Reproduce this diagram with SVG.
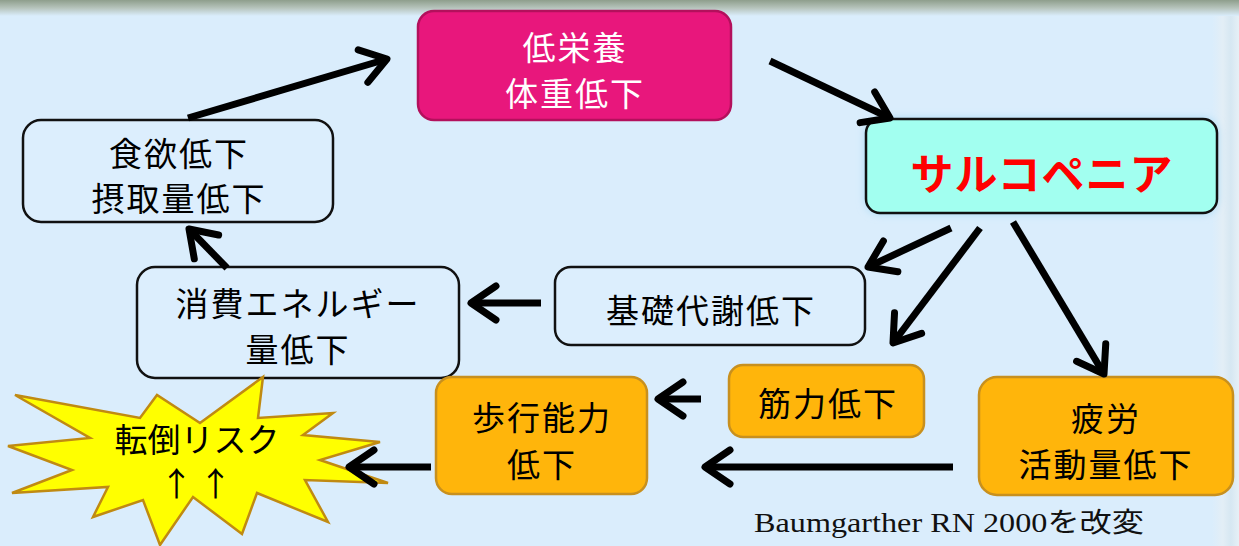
<svg xmlns="http://www.w3.org/2000/svg" width="1239" height="546" viewBox="0 0 1239 546">
<defs>
<style>
.jp{font-family:'Noto Sans CJK JP','Noto Sans CJK SC',sans-serif;font-size:33px;text-anchor:middle;dominant-baseline:central;letter-spacing:2px;}
.blk{fill:#000;}
.wht{fill:#fff;}
.wbox{fill:#DCEEFD;stroke:#111;stroke-width:2.5;}
.obox{fill:#FFB50B;stroke:#C8901E;stroke-width:2.5;}
.conn{fill:none;stroke:#000;stroke-width:7;stroke-linecap:butt;}
</style>
<linearGradient id="topband" x1="0" y1="0" x2="0" y2="1">
<stop offset="0" stop-color="#8E9E8C"/>
<stop offset="0.5" stop-color="#B6C4BC"/>
<stop offset="1" stop-color="#DAEDFC"/>
</linearGradient>
<linearGradient id="rstrip" x1="0" y1="0" x2="1" y2="0">
<stop offset="0" stop-color="#DAEDFC"/>
<stop offset="0.4" stop-color="#E3EEF6"/>
<stop offset="0.7" stop-color="#D6E7F2"/>
<stop offset="1" stop-color="#E6F0F6"/>
</linearGradient>
<filter id="glow" x="-10%" y="-20%" width="120%" height="140%">
<feGaussianBlur stdDeviation="5"/>
</filter>
<marker id="chev" markerUnits="userSpaceOnUse" markerWidth="60" markerHeight="60" refX="0" refY="0" orient="auto" overflow="visible">
<path d="M-25,-17 L0,0 L-25,17" fill="none" stroke="#000" stroke-width="7" stroke-linecap="round" stroke-linejoin="round"/>
</marker>
</defs>
<rect x="0" y="0" width="1239" height="546" fill="#DAEDFC"/>
<rect x="1212" y="0" width="27" height="546" fill="url(#rstrip)"/>
<rect x="0" y="0" width="1239" height="16" fill="url(#topband)"/>

<g id="node-teieiyou">
<rect x="418" y="11" width="313" height="109" rx="16" fill="#E8177C" stroke="#B3105C" stroke-width="2.5"/>
<text class="jp wht" x="575" y="46">低栄養</text>
<text class="jp wht" x="575" y="92">体重低下</text>
</g>

<g id="node-sarcopenia">
<rect x="866" y="119" width="351" height="94" rx="14" fill="#9FD6F2" filter="url(#glow)"/>
<rect x="866" y="119" width="351" height="94" rx="14" fill="#A2FFF0" stroke="#111" stroke-width="2.5"/>
<text x="1042" y="171" font-family="'Noto Sans CJK JP',sans-serif" font-size="43" font-weight="bold" fill="#FF0000" text-anchor="middle" dominant-baseline="central" letter-spacing="1">サルコペニア</text>
</g>

<g id="node-shokuyoku">
<rect class="wbox" x="23" y="120" width="310" height="102" rx="18"/>
<text class="jp blk" x="179" y="152">食欲低下</text>
<text class="jp blk" x="179" y="197">摂取量低下</text>
</g>

<g id="node-shouhi">
<rect class="wbox" x="137" y="267" width="322" height="111" rx="18"/>
<text class="jp blk" x="298" y="302">消費エネルギー</text>
<text class="jp blk" x="298" y="348">量低下</text>
</g>

<g id="node-kiso">
<rect class="wbox" x="555" y="267" width="310" height="78" rx="16"/>
<text class="jp blk" x="711" y="309">基礎代謝低下</text>
</g>

<g id="node-kinryoku">
<rect class="obox" x="729" y="365" width="195" height="72" rx="14"/>
<text class="jp blk" x="828" y="402">筋力低下</text>
</g>

<g id="node-hokou">
<rect class="obox" x="436" y="377" width="211" height="117" rx="16"/>
<text class="jp blk" x="542" y="416">歩行能力</text>
<text class="jp blk" x="542" y="463">低下</text>
</g>

<g id="node-hirou">
<rect class="obox" x="979" y="377" width="254" height="118" rx="18"/>
<text class="jp blk" x="1106" y="417">疲労</text>
<text class="jp blk" x="1106" y="463">活動量低下</text>
</g>

<g id="node-tentou">
<polygon points="15,395 140,418 157,395 200,423 263,377 258,418 333,413 303,435 380,442 320,460 388,483 305,480 328,522 257,493 242,534 193,497 160,545 143,500 93,517 108,487 12,493 72,470 8,446 90,438" fill="#FFFF00" stroke="#C08A12" stroke-width="2.5" stroke-linejoin="miter"/>
<text class="jp blk" x="197" y="438" style="letter-spacing:0px">転倒リスク</text>
<text class="jp blk" x="199" y="482" style="letter-spacing:6px">↑↑</text>
</g>

<g id="connectors">
<path class="conn" d="M188,118 L387,59" marker-end="url(#chev)"/>
<path class="conn" d="M770,61 L890,118" marker-end="url(#chev)"/>
<path class="conn" d="M951,228 L868,267" marker-end="url(#chev)"/>
<path class="conn" d="M980,228 L893,343" marker-end="url(#chev)"/>
<path class="conn" d="M1013,222 L1104,374" marker-end="url(#chev)"/>
<path class="conn" d="M541,303 L471,303" marker-end="url(#chev)"/>
<path class="conn" d="M227,268 L189,229" marker-end="url(#chev)"/>
<path class="conn" d="M701,399 L658,399" marker-end="url(#chev)"/>
<path class="conn" d="M953,467 L705,467" marker-end="url(#chev)"/>
<path class="conn" d="M431,467 L349,467" marker-end="url(#chev)"/>
</g>

<text x="754" y="532" font-family="'Liberation Serif','Noto Sans CJK JP',serif" font-size="27" fill="#111" textLength="390" lengthAdjust="spacingAndGlyphs">Baumgarther RN 2000を改変</text>
</svg>
